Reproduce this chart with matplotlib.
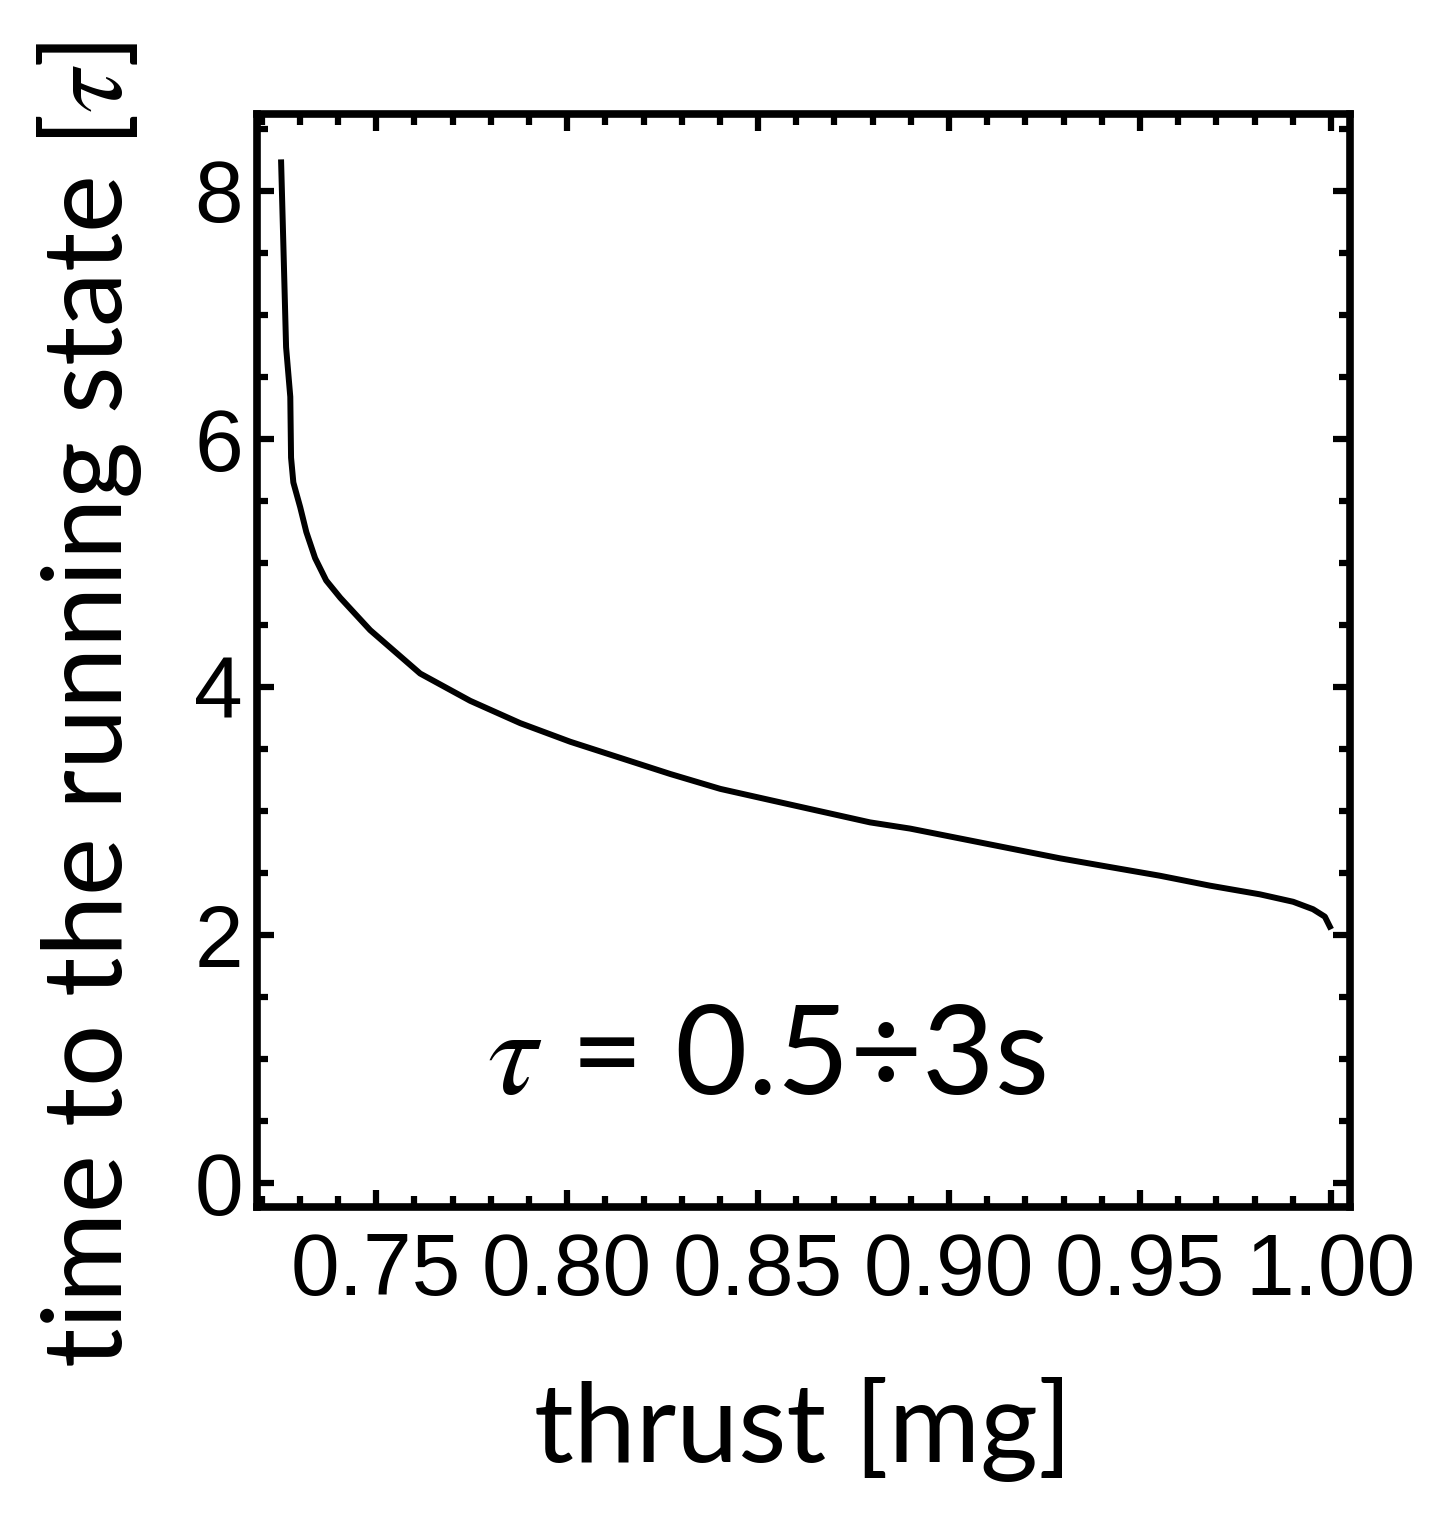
import matplotlib
matplotlib.use('Agg')
import matplotlib.pyplot as plt
from matplotlib.ticker import MultipleLocator, FormatStrFormatter

plt.rcParams['mathtext.fontset'] = 'stix'

# values
thrust = [0.7251, 0.7257, 0.7264, 0.7275, 0.7277, 0.7283, 0.7301, 0.7317, 0.7340, 0.7369,
          0.7406, 0.7484, 0.7615, 0.7746, 0.7877, 0.8008, 0.8139, 0.8270, 0.8401, 0.8531,
          0.8662, 0.8793, 0.8898, 0.9029, 0.9160, 0.9291, 0.9421, 0.9552, 0.9683, 0.9814,
          0.9901, 0.9953, 0.9984, 0.9997]
time_tau = [8.23, 7.55, 6.74, 6.34, 5.85, 5.65, 5.45, 5.25, 5.04, 4.86,
            4.72, 4.46, 4.11, 3.89, 3.71, 3.56, 3.43, 3.30, 3.18, 3.09,
            3.00, 2.91, 2.86, 2.78, 2.70, 2.62, 2.55, 2.48, 2.40, 2.33,
            2.27, 2.21, 2.15, 2.07]
xticks = [0.75, 0.80, 0.85, 0.90, 0.95, 1.00]
yticks = [0, 2, 4, 6, 8]

fig = plt.figure(figsize=(14.45, 15.18), dpi=100)
ax = fig.add_axes([0.1779, 0.2049, 0.7564, 0.7200])

ax.plot(thrust, time_tau, color='black', linewidth=4.3, solid_joinstyle='round')

ax.set_xlim(0.7188, 1.005)
ax.set_ylim(-0.19, 8.62)
ax.set_xticks(xticks)
ax.set_yticks(yticks)
ax.xaxis.set_major_formatter(FormatStrFormatter('%.2f'))
ax.xaxis.set_minor_locator(MultipleLocator(0.01))
ax.yaxis.set_minor_locator(MultipleLocator(0.5))

for s in ax.spines.values():
    s.set_linewidth(5.5)
ax.tick_params(which='both', direction='in', top=True, right=True, width=4.5)
ax.tick_params(which='major', length=12)
ax.tick_params(which='minor', length=8)
ax.tick_params(axis='x', which='major', pad=18)
ax.tick_params(axis='y', which='major', pad=10)
for lab in ax.get_xticklabels() + ax.get_yticklabels():
    lab.set_family('Liberation Sans')
    lab.set_fontsize(63)

ax.text(0.852, 1.0, r'$\tau$ = 0.5÷3s', ha='center', va='center',
        fontsize=90, family='Lato')

fig.text(0.5557, 0.0585, 'thrust [mg]', ha='center', va='center',
         fontsize=80, family='Lato')
fig.text(0.062, 0.5356, r'time to the running state [$\tau$]', ha='center', va='center',
         rotation=90, fontsize=79, family='Lato')

fig.savefig('out.png', dpi=100)
